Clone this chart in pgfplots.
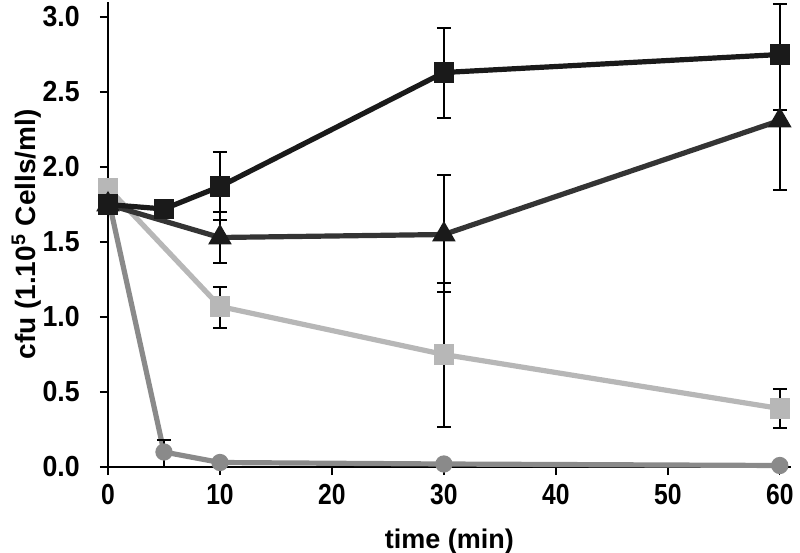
\documentclass[border=0pt]{standalone}
\usepackage{pgfplots}
\pgfplotsset{compat=1.18}
\usepackage{fontspec}
\setmainfont{Liberation Sans}
\definecolor{cA}{RGB}{26,26,26}
\definecolor{cB}{RGB}{52,52,52}
\definecolor{cC}{RGB}{183,183,183}
\definecolor{cD}{RGB}{138,138,138}
\newcommand{\tfont}{\fontsize{14.5}{17}\selectfont\bfseries}
\begin{document}
\begin{tikzpicture}
\begin{axis}[
  scale only axis, width=341.5pt, height=232.5pt,
  xmin=0, xmax=61, ymin=0, ymax=3.1,
  axis lines=left,
  axis line style={-, black, line width=0.7pt},
  xtick={0,10,...,60}, ytick={0,0.5,...,3},
  tick align=outside, major tick length=4pt,
  tick style={black, line width=0.7pt},
  /pgf/number format/assume math mode=true,
  yticklabel style={font=\tfont, /pgf/number format/fixed, /pgf/number format/fixed zerofill,
    /pgf/number format/precision=1, xscale=0.92, anchor=east, xshift=-7.5pt},
  xticklabel style={font=\tfont, xscale=0.85, yshift=-1pt},
  xlabel={time (min)},
  xlabel style={yshift=-5.5pt, font=\fontsize{13.5}{16}\selectfont\bfseries},
  ylabel={cfu (1.10\textsuperscript{5} Cells/ml)},
  ylabel style={yshift=-6pt, font=\fontsize{14}{16}\selectfont\bfseries},
  clip=false,
  error bars/error bar style={black, line width=1pt, solid},
  error bars/error mark options={rotate=90, black, mark size=3.5pt, line width=1pt},
]
% circles (medium grey)
\addplot[color=cD, line width=2.6pt, mark=*, mark size=3pt,
  error bars/.cd, y dir=both, y explicit] coordinates {
  (0,1.80) (5,0.10) += (0,0.08) -= (0,0.10) (10,0.03) (30,0.02) (60,0.01)
};
% light grey squares
\addplot[color=cC, line width=2.6pt, mark=square*, mark size=3.75pt,
  error bars/.cd, y dir=both, y explicit] coordinates {
  (0,1.86) += (0,0.05) -= (0,0.0)
  (10,1.07) += (0,0.13) -= (0,0.14)
  (30,0.75) += (0,0.48) -= (0,0.48)
  (60,0.39) += (0,0.13) -= (0,0.13)
};
% triangles (dark grey)
\addplot[color=cB, line width=2.6pt, mark=triangle*, mark size=4.2pt,
  mark options={fill=cA, draw=cA},
  error bars/.cd, y dir=both, y explicit] coordinates {
  (0,1.75)
  (10,1.53) += (0,0.17) -= (0,0.17)
  (30,1.55) += (0,0.40) -= (0,0.38)
  (60,2.31) += (0,0.07) -= (0,0.46)
};
% black squares
\addplot[color=cA, line width=2.6pt, mark=square*, mark size=3.75pt,
  error bars/.cd, y dir=both, y explicit] coordinates {
  (0,1.75) (5,1.72)
  (10,1.87) += (0,0.23) -= (0,0.22)
  (30,2.63) += (0,0.30) -= (0,0.30)
  (60,2.75) += (0,0.34) -= (0,0.37)
};
\end{axis}
\pgfresetboundingbox
\path (current axis.south west) ++(-54pt,-43pt) rectangle ++(400pt,276.5pt);
\end{tikzpicture}
\end{document}
